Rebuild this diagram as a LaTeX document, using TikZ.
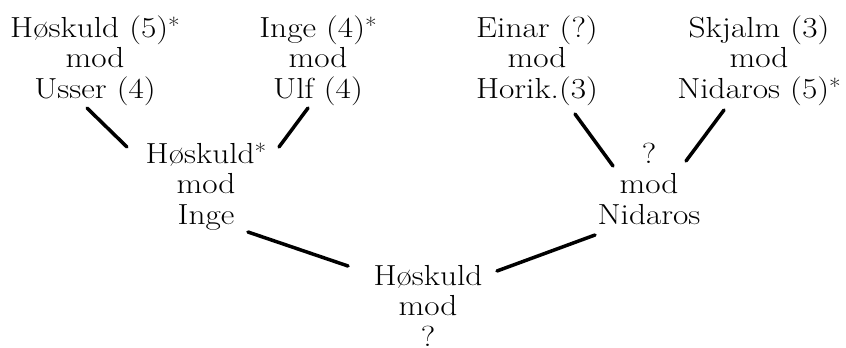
\documentclass[tikz,border=0pt]{standalone}
\usetikzlibrary{calc}
\newcommand{\mystar}{\raisebox{4pt}{\fontsize{22}{22}\selectfont*}}
\newcommand{\widetab}[1]{\scalebox{1.15}[1]{\begin{tabular}[t]{@{}c@{}}#1\end{tabular}}}
\begin{document}
\begin{tikzpicture}[x=1pt,y=-1pt,
  every node/.style={inner sep=0pt, font=\fontsize{29}{30.5}\selectfont},
  match/.style={anchor=base},
  conn/.style={line width=3.5pt, line cap=round}]
\useasboundingbox (0,0) rectangle (846,348);
\node[match] (A) at (95,37) {\widetab{Høskuld (5)\mystar\\mod\\Usser (4)}};
\node[match] (B) at (318,37) {\widetab{Inge (4)\mystar\\mod\\Ulf (4)}};
\node[match] (C) at (537,37) {\widetab{Einar (?)\\mod\\Horik.(3)}};
\node[match] (D) at (759,37) {\widetab{Skjalm (3)\\mod\\Nidaros (5)\mystar}};
\node[match] (E) at (206,163) {\widetab{Høskuld\mystar\\mod\\Inge}};
\node[match] (F) at (649,163) {\widetab{?\\mod\\Nidaros}};
\node[match] (G) at (428,285) {\widetab{Høskuld\\mod\\?}};
\draw[conn] ($(A.base)+(-8,71)$) -- ($(E.base)+(-79,-16)$);
\draw[conn] ($(B.base)+(-10,71)$) -- ($(E.base)+(73,-16)$);
\draw[conn] ($(C.base)+(38,77)$) -- ($(F.base)+(-36,3)$);
\draw[conn] ($(D.base)+(-35,73)$) -- ($(F.base)+(37,-2)$);
\draw[conn] ($(E.base)+(42,69)$) -- ($(G.base)+(-80,-19)$);
\draw[conn] ($(F.base)+(-54,72)$) -- ($(G.base)+(69,-14)$);
\end{tikzpicture}
\end{document}
